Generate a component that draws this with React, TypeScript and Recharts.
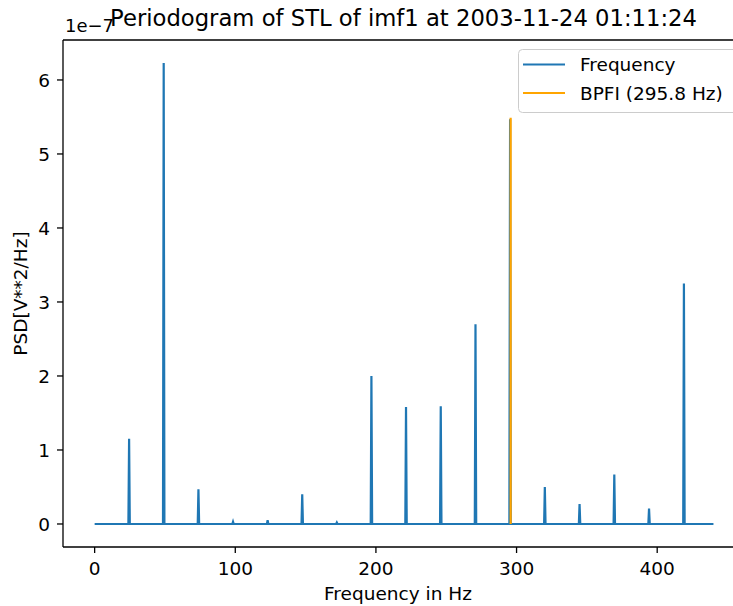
import React from 'react';
import { LineChart, Line, XAxis, YAxis, ReferenceLine, Legend } from 'recharts';

// Frequency axis (Hz) and PSD values (in units of 1e-7 V**2/Hz)
const freqHz = [
  0,
  24.0, 24.5, 25.0,
  48.6, 49.1, 49.6,
  73.3, 73.8, 74.3,
  97.9, 98.4, 98.9,
  122.5, 123.0, 123.5,
  147.1, 147.6, 148.1,
  171.7, 172.2, 172.7,
  196.3, 196.8, 197.3,
  220.9, 221.4, 221.9,
  245.6, 246.1, 246.6,
  270.3, 270.8, 271.3,
  294.9, 295.4, 295.9,
  319.6, 320.1, 320.6,
  344.3, 344.8, 345.3,
  369.0, 369.5, 370.0,
  393.7, 394.2, 394.7,
  418.5, 419.0, 419.5,
  440,
];
const psdE7 = [
  0,
  0, 1.15, 0,
  0, 6.23, 0,
  0, 0.47, 0,
  0, 0.03, 0,
  0, 0.05, 0,
  0, 0.40, 0,
  0, 0.02, 0,
  0, 2.00, 0,
  0, 1.58, 0,
  0, 1.59, 0,
  0, 2.70, 0,
  0, 5.47, 0,
  0, 0.50, 0,
  0, 0.27, 0,
  0, 0.67, 0,
  0, 0.21, 0,
  0, 3.25, 0,
  0,
];

const bpfiFreq = [295.8, 295.8];
const bpfiPsd = [0, 5.49];

const xTicks = [0, 100, 200, 300, 400];
const yTicks = [0, 1, 2, 3, 4, 5, 6];
const xDomain = [-22.5, 453.9];
const yDomain = [-0.311, 6.54];

const spectrum = freqHz.map((f, i) => ({ f, psd: psdE7[i] }));
const bpfi = bpfiFreq.map((f, i) => ({ f, psd: bpfiPsd[i] }));

const FONT = '"DejaVu Sans", sans-serif';
const BLUE = '#1f77b4';
const ORANGE = '#ffa500';

const LegendBox = () => (
  <svg width={733} height={606} style={{ position: 'absolute', left: 0, top: 0, pointerEvents: 'none' }}>
    <rect x={518.5} y={49.5} width={240} height={63} rx={4} ry={4} fill="#ffffff" fillOpacity={0.8} stroke="#cccccc" strokeWidth={1} />
    <line x1={523} x2={565} y1={64.5} y2={64.5} stroke={BLUE} strokeWidth={2.2} />
    <text x={580} y={71} fontFamily={FONT} fontSize={18.5} fill="#000">Frequency</text>
    <line x1={523} x2={565} y1={93} y2={93} stroke={ORANGE} strokeWidth={2.2} />
    <text x={580} y={100} fontFamily={FONT} fontSize={18.5} fill="#000">BPFI (295.8 Hz)</text>
  </svg>
);

export default function App() {
  return (
    <div style={{ position: 'absolute', left: 0, top: 0, width: 733, height: 606, background: '#fff' }}>
      <LineChart width={733} height={606} margin={{ top: 40, right: 0, bottom: 0, left: 0 }}>
        <XAxis
          dataKey="f"
          type="number"
          domain={xDomain}
          ticks={xTicks}
          allowDataOverflow
          height={59}
          tickSize={6}
          tickMargin={9}
          stroke="#000"
          strokeWidth={1.3}
          tick={{ fill: '#000', fontSize: 18.5, fontFamily: FONT }}
          label={{ value: 'Frequency in Hz', position: 'insideBottom', offset: 6, fill: '#000', fontSize: 18.5, fontFamily: FONT }}
        />
        <YAxis
          type="number"
          domain={yDomain}
          ticks={yTicks}
          allowDataOverflow
          width={63}
          tickSize={6}
          tickMargin={7}
          stroke="#000"
          strokeWidth={1.3}
          tick={{ fill: '#000', fontSize: 18.5, fontFamily: FONT }}
          label={{ value: 'PSD[V**2/Hz]', angle: -90, position: 'insideLeft', offset: 20, fill: '#000', fontSize: 18.5, fontFamily: FONT, style: { textAnchor: 'middle' } }}
        />
        <ReferenceLine y={yDomain[1]} stroke="#000" strokeWidth={1.3} ifOverflow="visible" />
        <Line data={spectrum} dataKey="psd" stroke={BLUE} strokeWidth={2.2} dot={false} isAnimationActive={false} name="Frequency" />
        <Line data={bpfi} dataKey="psd" stroke={ORANGE} strokeWidth={2.2} dot={false} isAnimationActive={false} name="BPFI (295.8 Hz)" />
        <Legend content={() => null} />
      </LineChart>
      <svg width={733} height={606} style={{ position: 'absolute', left: 0, top: 0, pointerEvents: 'none' }}>
        <text x={65} y={32} fontFamily={FONT} fontSize={18} fill="#000">1e−7</text>
        <text x={403.5} y={26} textAnchor="middle" fontFamily={FONT} fontSize={22.7} fill="#000">Periodogram of STL of imf1 at 2003-11-24 01:11:24</text>
      </svg>
      <LegendBox />
    </div>
  );
}
